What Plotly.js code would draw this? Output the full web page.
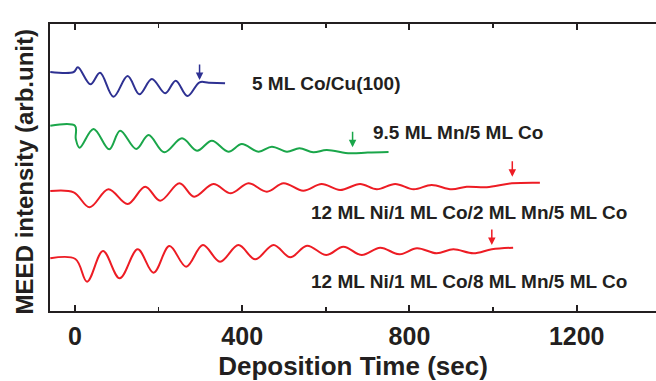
<!DOCTYPE html>
<html>
<head>
<meta charset="utf-8">
<script src="https://cdn.plot.ly/plotly-3.0.1.min.js"></script>
<style>html,body{margin:0;padding:0;background:#fff;overflow:hidden}</style>
</head>
<body>
<div id="chart" style="width:656px;height:381px"></div>
<script>
// Deposition time (sec) and MEED intensity (arb. unit, vertically offset per curve)
const coCuTime = [-59, -3, 7, 37, 60, 92, 126, 154, 184, 216, 241, 269, 298, 320, 359];
const coCuInt  = [239, 239, 243.7, 226.7, 238.3, 214.3, 235, 216.7, 232, 217.7, 230.3, 215, 228.7, 228.3, 227.7];

const mnCoTime = [-59, 0, 2, 11, 44.5, 82, 108, 146.5, 176, 213.5, 256, 292, 327.5, 367, 399, 439, 471, 507, 537, 570, 602, 658, 700, 750];
const mnCoInt  = [185.3, 185.3, 172, 163.3, 182, 161.7, 180.3, 162, 176, 158.7, 172.7, 160.3, 170.3, 159.3, 167, 159.3, 164.3, 159.3, 162.7, 158.7, 161, 157.7, 158.5, 159];

const ni2MnTime = [-59, -3, 35, 80, 126, 168, 204, 250, 285, 331, 373, 415, 459, 499, 546, 590, 634, 682, 722, 766, 810, 853, 901, 937, 985, 1045, 1112];
const ni2MnInt  = [120, 118.7, 103.7, 121.7, 107, 124.3, 110.3, 127.7, 114.3, 127, 117.7, 127.7, 119.3, 127.7, 120.3, 127, 121, 127, 121.7, 127, 121.7, 126, 121.7, 124.3, 123.7, 127.7, 128.3];

const ni8MnTime = [-59, 1, 29, 67, 107, 150, 188, 226, 266, 306, 347, 391, 431, 475, 515, 555, 601, 642, 686, 730, 776, 818, 865, 905, 953, 997, 1048];
const ni8MnInt  = [52.7, 52, 29.3, 60, 32.7, 61.7, 38.3, 65, 44.3, 66, 49.3, 66, 51.7, 66, 53.7, 65.3, 56, 64.3, 56, 63.3, 56.7, 62.7, 57.7, 61.7, 57.7, 61.7, 63.3];

// Labels and arrow markers (end of growth)
const seriesLabels = ["5 ML Co/Cu(100)", "9.5 ML Mn/5 ML Co", "12 ML Ni/1 ML Co/2 ML Mn/5 ML Co", "12 ML Ni/1 ML Co/8 ML Mn/5 ML Co"];
const arrowTime = [298, 664, 1046, 997];
const arrowInt  = [231, 163.7, 134.3, 66];
const xTicks = [0, 400, 800, 1200];
const yTitle = "MEED intensity (arb.unit)";

const colors = ["#2e3192", "#1aa64a", "#ed1c24", "#ed1c24"];
const xs = [coCuTime, mnCoTime, ni2MnTime, ni8MnTime];
const ys = [coCuInt, mnCoInt, ni2MnInt, ni8MnInt];

const traces = xs.map((x, i) => ({
  x: x, y: ys[i], type: "scatter", mode: "lines", name: seriesLabels[i],
  line: {color: colors[i], width: 2, shape: "spline", smoothing: 1},
  hoverinfo: "x+y"
}));

const fam = "Liberation Sans, Arial, sans-serif";
const labelPos = [[419, 227.5], [709, 179], [560, 98.5], [560, 30]];
const annotations = [];
seriesLabels.forEach((t, i) => {
  annotations.push({
    x: labelPos[i][0], y: labelPos[i][1], xref: "x", yref: "y",
    text: "<b>" + t + "</b>", showarrow: false, xanchor: "left", yanchor: "middle",
    font: {family: fam, size: 19, color: "#231f20"}
  });
  annotations.push({
    x: arrowTime[i], y: arrowInt[i], xref: "x", yref: "y", text: "",
    showarrow: true, arrowhead: 2, arrowsize: 1, arrowwidth: 1.5,
    arrowcolor: colors[i], ax: 0, ay: -17
  });
});
annotations.push({
  x: -0.0429, y: 0.483, xref: "paper", yref: "paper", textangle: -90,
  text: "<b>" + yTitle + "</b>", showarrow: false, xanchor: "center", yanchor: "middle",
  font: {family: fam, size: 24, color: "#231f20"}
});

const axisFont = {family: fam, size: 25, color: "#231f20"};

const layout = {
  width: 656, height: 381,
  margin: {l: 50, r: 0, t: 24, b: 70},
  paper_bgcolor: "#fff", plot_bgcolor: "#fff",
  showlegend: false,
  xaxis: {
    range: [-59.7, 1389.7],
    tickvals: xTicks, ticktext: xTicks.map(v => "<b>" + v + "</b>"),
    ticks: "inside", ticklen: 6, tickwidth: 2, tickcolor: "#231f20",
    minor: {dtick: 200, tick0: 0, ticks: "inside", ticklen: 4, tickwidth: 1.5, tickcolor: "#231f20"},
    showline: true, linewidth: 2, linecolor: "#231f20", mirror: "ticks",
    showgrid: false, zeroline: false,
    tickfont: axisFont, ticklabelstandoff: 2,
    title: {text: "<b>Deposition Time (sec)</b>", font: {family: fam, size: 26, color: "#231f20"}, standoff: 8}
  },
  yaxis: {
    range: [0, 287],
    showticklabels: false, ticks: "",
    showline: true, linewidth: 2, linecolor: "#231f20",
    showgrid: false, zeroline: false
  },
  annotations: annotations
};

Plotly.newPlot("chart", traces, layout, {displayModeBar: false, staticPlot: true});
</script>
</body>
</html>
